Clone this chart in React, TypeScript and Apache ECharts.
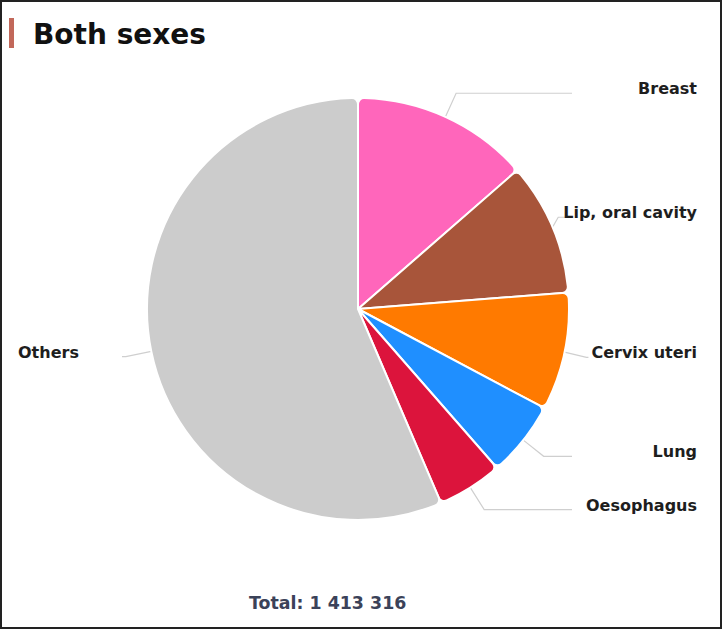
import React, { useEffect, useRef } from "react";
import * as echarts from "echarts";

const categories = ["Breast", "Lip, oral cavity", "Cervix uteri", "Lung", "Oesophagus", "Others"];
const newCases = [192020, 143759, 127526, 81748, 70637, 797626];
const sliceColors = ["#ff66bb", "#a8553a", "#ff7a00", "#1f8fff", "#dc143c", "#cccccc"];
const chartTitle = "Both sexes";

const formatThousands = (n: number) => String(n).replace(/\B(?=(\d{3})+(?!\d))/g, " ");

export default function App() {
  const ref = useRef<HTMLDivElement>(null);
  useEffect(() => {
    if (!ref.current) return;
    const chart = echarts.init(ref.current, null, { renderer: "svg" });
    const total = newCases.reduce((a, b) => a + b, 0);
    const font = "DejaVu Sans";
    const labelText = { fontFamily: font, fontWeight: "bold" as const, fontSize: 16, color: "#1e1e1e" };
    const centerX = 358;
    const rightLineEndGap = 152;
    const leftLineEnd = 122;
    chart.setOption({
      animation: false,
      backgroundColor: "#ffffff",
      title: [
        {
          text: chartTitle,
          left: 28,
          top: 15,
          textStyle: { fontFamily: font, fontWeight: "bold", fontSize: 28, color: "#111111" },
        },
        {
          text: "Total: " + formatThousands(total),
          left: 244,
          top: 589,
          textStyle: { fontFamily: font, fontWeight: "bold", fontSize: 17.4, color: "#3b4259" },
        },
      ],
      graphic: [
        { type: "rect", shape: { x: 1, y: 1, width: 720, height: 627 }, style: { fill: "none", stroke: "#222222", lineWidth: 2 } },
        { type: "rect", shape: { x: 9, y: 18, width: 5, height: 30 }, style: { fill: "#c2685a" } },
      ],
      series: [
        {
          type: "pie",
          center: [centerX, 309],
          radius: 211,
          startAngle: 90,
          clockwise: true,
          itemStyle: { borderColor: "#ffffff", borderWidth: 2, borderRadius: 6 },
          labelLine: { length: 26, length2: 4, lineStyle: { color: "#cfcfcf", width: 1.2 } },
          label: {
            show: true,
            alignTo: "edge",
            edgeDistance: 27,
            distanceToLabelLine: 5,
            overflow: "none",
            ...labelText,
            formatter: (p: any) => (p.dataIndex === categories.length - 1 ? `{l|${p.name}}` : `{r|${p.name}}`),
            rich: {
              r: { ...labelText, width: 120, align: "right", padding: [0, 0, 9, 0] },
              l: { ...labelText, width: 99, align: "left", padding: [0, 0, 9, 0] },
            },
          },
          labelLayout: (p: any) => {
            const pts = p.labelLinePoints;
            if (!pts || pts.length < 3) return {};
            const isLeft = pts[0][0] < centerX;
            const target = isLeft ? leftLineEnd : chart.getWidth() - rightLineEndGap;
            const endX = isLeft ? Math.min(pts[1][0] - 2, target) : Math.max(pts[1][0] + 2, target);
            return {
              labelLinePoints: [
                [pts[0][0], pts[0][1]],
                [pts[1][0], pts[1][1]],
                [endX, pts[2][1]],
              ],
            };
          },
          data: categories.map((name, i) => ({
            name,
            value: newCases[i],
            itemStyle: { color: sliceColors[i] },
            label: i === categories.length - 1 ? { edgeDistance: 18 } : undefined,
          })),
        },
      ],
    });
    return () => chart.dispose();
  }, []);
  return <div ref={ref} style={{ position: "absolute", left: 0, top: 0, width: 724, height: 630 }} />;
}
